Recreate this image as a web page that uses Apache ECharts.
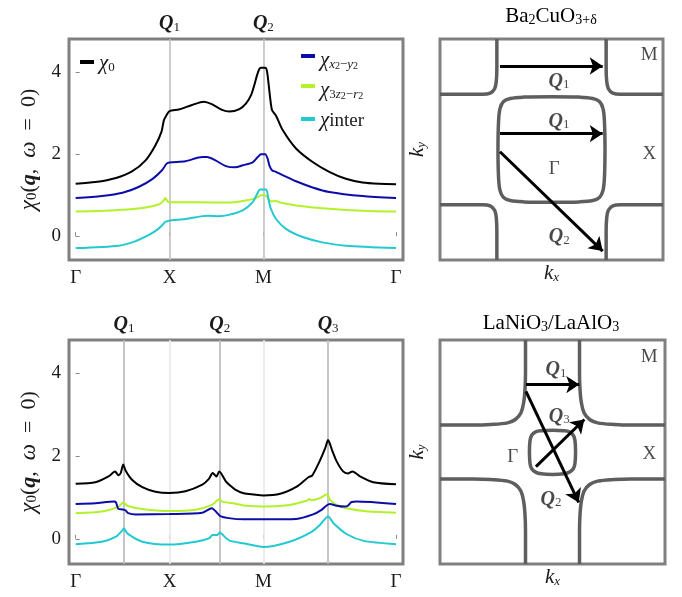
<!DOCTYPE html>
<html>
<head>
<meta charset="utf-8">
<script src="https://cdn.jsdelivr.net/npm/echarts@6/dist/echarts.min.js"></script>
<style>
  html, body { margin: 0; padding: 0; background: #fff; }
  #main { width: 682px; height: 597px; }
</style>
</head>
<body>
<div id="main"></div>
<script>
// ---- path axis (Γ-X-M-Γ, in units of π) ----
var pathTicks = [0, 1, 2, 3.414];
var pathLabels = ['Γ', 'X', 'M', 'Γ'];
var yTicks = [0, 2, 4];

var topQTicks = [1, 2];
var topQLabels = ['1', '2'];
var bottomQTicks = [0.515, 1.535, 2.69];
var bottomQLabels = ['1', '2', '3'];
var topGuides = [1, 2];
var bottomFaintGuides = [1, 2];

// ---- Ba2CuO3+δ susceptibilities ----
var topChi0 = [[0,1.28],[0.21,1.32],[0.43,1.42],[0.6,1.58],[0.745,1.85],[0.85,2.22],[0.915,2.55],[0.94,2.83],[0.965,2.94],[1.0,3.05],[1.1,3.09],[1.24,3.2],[1.365,3.28],[1.45,3.22],[1.56,3.08],[1.638,3.04],[1.745,3.1],[1.816,3.24],[1.869,3.44],[1.904,3.69],[1.933,3.93],[1.957,4.08],[1.975,4.11],[2.021,4.11],[2.039,4.02],[2.057,3.69],[2.071,3.4],[2.092,3.08],[2.135,2.94],[2.206,2.59],[2.348,2.14],[2.525,1.81],[2.702,1.57],[2.879,1.4],[3.057,1.31],[3.234,1.28],[3.414,1.27]];
var topChiX = [[0,0.93],[0.28,0.98],[0.5,1.06],[0.67,1.2],[0.82,1.4],[0.92,1.61],[0.97,1.77],[1.0,1.8],[1.17,1.83],[1.35,1.93],[1.4,1.93],[1.49,1.85],[1.6,1.71],[1.7,1.68],[1.78,1.73],[1.886,1.8],[1.94,1.93],[1.975,2.0],[2.02,2.0],[2.046,1.89],[2.064,1.73],[2.092,1.61],[2.135,1.57],[2.206,1.49],[2.348,1.34],[2.525,1.19],[2.702,1.08],[3.057,0.98],[3.414,0.93]];
var topChiZ = [[0,0.6],[0.3,0.62],[0.55,0.65],[0.75,0.7],[0.89,0.78],[0.93,0.85],[0.957,0.93],[0.975,0.86],[1.0,0.83],[1.3,0.83],[1.638,0.82],[1.78,0.86],[1.92,0.93],[1.975,1.0],[2.02,1.0],[2.05,0.93],[2.08,0.85],[2.135,0.86],[2.17,0.83],[2.35,0.75],[2.7,0.67],[3.06,0.62],[3.414,0.6]];
var topChiI = [[0,-0.29],[0.46,-0.23],[0.64,-0.12],[0.78,0.03],[0.87,0.16],[0.92,0.26],[0.95,0.34],[0.99,0.38],[1.17,0.42],[1.35,0.49],[1.42,0.5],[1.52,0.49],[1.63,0.52],[1.78,0.63],[1.886,0.83],[1.94,1.06],[1.965,1.14],[2.03,1.14],[2.053,0.91],[2.08,0.67],[2.135,0.42],[2.24,0.18],[2.42,-0.02],[2.63,-0.15],[2.88,-0.23],[3.414,-0.29]];

// ---- LaNiO3/LaAlO3 susceptibilities ----
var botChi0 = [[0,1.33],[0.21,1.37],[0.35,1.51],[0.42,1.63],[0.454,1.54],[0.48,1.59],[0.507,1.8],[0.53,1.66],[0.6,1.43],[0.71,1.25],[0.85,1.14],[1.0,1.11],[1.17,1.15],[1.35,1.31],[1.42,1.45],[1.46,1.59],[1.5,1.51],[1.53,1.63],[1.6,1.39],[1.645,1.29],[1.7,1.19],[1.79,1.1],[1.9,1.07],[2.0,1.05],[2.18,1.09],[2.36,1.27],[2.48,1.49],[2.52,1.53],[2.6,1.88],[2.66,2.2],[2.69,2.39],[2.73,2.16],[2.78,1.88],[2.85,1.63],[2.9,1.58],[2.95,1.63],[3.03,1.51],[3.17,1.37],[3.414,1.32]];
var botChiX = [[0,0.84],[0.21,0.86],[0.41,0.9],[0.43,0.88],[0.455,0.72],[0.5,0.71],[0.53,0.69],[0.56,0.62],[0.64,0.59],[1.0,0.6],[1.35,0.63],[1.45,0.74],[1.51,0.62],[1.54,0.55],[1.63,0.5],[1.79,0.47],[2.0,0.47],[2.35,0.48],[2.53,0.59],[2.62,0.7],[2.67,0.8],[2.71,0.84],[2.78,0.8],[2.87,0.78],[2.9,0.8],[2.94,0.89],[2.99,0.9],[3.414,0.84]];
var botChiZ = [[0,0.62],[0.28,0.66],[0.46,0.78],[0.507,0.88],[0.55,0.8],[0.71,0.72],[1.0,0.67],[1.28,0.7],[1.45,0.82],[1.535,0.96],[1.56,0.9],[1.7,0.85],[1.82,0.8],[2.0,0.78],[2.28,0.82],[2.46,0.92],[2.49,0.96],[2.51,0.93],[2.6,0.98],[2.68,1.08],[2.71,0.94],[2.82,0.78],[3.07,0.67],[3.414,0.63]];
var botChiI = [[0,-0.13],[0.28,-0.07],[0.43,0.05],[0.5,0.21],[0.515,0.25],[0.55,0.13],[0.71,-0.07],[1.0,-0.14],[1.28,-0.07],[1.42,0.01],[1.46,0.09],[1.51,0.09],[1.535,0.15],[1.6,0.02],[1.645,-0.05],[1.79,-0.11],[2.0,-0.2],[2.28,-0.07],[2.5,0.15],[2.6,0.33],[2.69,0.54],[2.75,0.37],[2.89,0.11],[3.07,-0.05],[3.414,-0.13]];

// ---- Fermi surfaces (kx, ky in units of π) ----
var fsTopPocket = [[0.48,0],[0.475,0.25],[0.462,0.37],[0.43,0.435],[0.37,0.462],[0.25,0.474],[0,0.478],[-0.25,0.474],[-0.37,0.462],[-0.43,0.435],[-0.462,0.37],[-0.475,0.25],[-0.48,0],[-0.475,-0.25],[-0.462,-0.37],[-0.43,-0.435],[-0.37,-0.462],[-0.25,-0.474],[0,-0.478],[0.25,-0.474],[0.37,-0.462],[0.43,-0.435],[0.462,-0.37],[0.475,-0.25],[0.48,0]];
var fsTopCornerTL = [[-0.49,1],[-0.49,0.75],[-0.495,0.62],[-0.51,0.55],[-0.55,0.51],[-0.62,0.5],[-0.75,0.5],[-1,0.5]];
var fsTopCornerTR = [[0.49,1],[0.49,0.75],[0.495,0.62],[0.51,0.55],[0.55,0.51],[0.62,0.5],[0.75,0.5],[1,0.5]];
var fsTopCornerBL = [[-0.49,-1],[-0.49,-0.75],[-0.495,-0.62],[-0.51,-0.55],[-0.55,-0.51],[-0.62,-0.5],[-0.75,-0.5],[-1,-0.5]];
var fsTopCornerBR = [[0.49,-1],[0.49,-0.75],[0.495,-0.62],[0.51,-0.55],[0.55,-0.51],[0.62,-0.5],[0.75,-0.5],[1,-0.5]];
var fsTopArrows = [[[-0.462,0.756],[0.459,0.756]],[[-0.462,0.143],[0.459,0.143]],[[-0.462,-0.02],[0.459,-0.919]]];
var fsTopText = [[0.067,0.635,'Q1'],[0.067,0.273,'Q1'],[0.025,-0.15,'Γ'],[0.877,-0.014,'X'],[0.877,0.876,'M'],[0.07,-0.77,'Q2']];

var fsBotPocket = [[0.205,0],[0.2,0.1],[0.185,0.15],[0.15,0.18],[0.1,0.19],[0,0.195],[-0.1,0.19],[-0.15,0.18],[-0.185,0.15],[-0.2,0.1],[-0.205,0],[-0.2,-0.1],[-0.185,-0.15],[-0.15,-0.18],[-0.1,-0.195],[0,-0.2],[0.1,-0.195],[0.15,-0.18],[0.185,-0.15],[0.2,-0.1],[0.205,0]];
var fsBotArcTL = [[-0.24,1],[-0.24,0.7],[-0.245,0.55],[-0.255,0.45],[-0.28,0.35],[-0.33,0.29],[-0.4,0.26],[-0.55,0.245],[-0.7,0.24],[-1,0.24]];
var fsBotArcTR = [[0.24,1],[0.24,0.7],[0.245,0.55],[0.255,0.45],[0.28,0.35],[0.33,0.29],[0.4,0.26],[0.55,0.245],[0.7,0.24],[1,0.24]];
var fsBotArcBL = [[-0.24,-1],[-0.24,-0.7],[-0.245,-0.55],[-0.255,-0.45],[-0.28,-0.35],[-0.33,-0.29],[-0.4,-0.26],[-0.55,-0.245],[-0.7,-0.24],[-1,-0.24]];
var fsBotArcBR = [[0.24,-1],[0.24,-0.7],[0.245,-0.55],[0.255,-0.45],[0.28,-0.35],[0.33,-0.29],[0.4,-0.26],[0.55,-0.245],[0.7,-0.24],[1,-0.24]];
var fsBotArrows = [[[-0.236,0.602],[0.238,0.602]],[[-0.236,0.542],[0.233,-0.45]],[[-0.147,-0.13],[0.283,0.29]]];
var fsBotText = [[0.031,0.75,'Q1'],[0.06,0.335,'Q3'],[-0.354,-0.02,'Γ'],[0.86,0,'X'],[0.86,0.87,'M'],[-0.013,-0.406,'Q2']];

(function () {
  'use strict';

  var SERIF = '"Liberation Serif","DejaVu Serif",serif';
  var INK = '#1a1a1a';
  var FRAME = '#808080';
  var FS_GRAY = '#5e5e5e';
  var C = { chi0: '#000000', chiX: '#0c0ca8', chiZ: '#b2f22a', chiI: '#22c9d0' };

  var RICH = {
    n: { fontFamily: SERIF, fontSize: 19, color: INK, lineHeight: 24, verticalAlign: 'bottom' },
    t: { fontFamily: SERIF, fontSize: 21, color: INK, lineHeight: 24, verticalAlign: 'bottom' },
    g: { fontFamily: SERIF, fontSize: 21, color: INK, fontStyle: 'italic', lineHeight: 24, verticalAlign: 'bottom' },
    b: { fontFamily: SERIF, fontSize: 20, color: INK, fontWeight: 'bold', fontStyle: 'italic', lineHeight: 24, verticalAlign: 'bottom' },
    sb: { fontFamily: SERIF, fontSize: 13, color: INK, lineHeight: 12, verticalAlign: 'bottom' },
    st: { fontFamily: SERIF, fontSize: 14, color: INK, lineHeight: 12, verticalAlign: 'bottom' },
    si: { fontFamily: SERIF, fontSize: 13, color: INK, fontStyle: 'italic', lineHeight: 12, verticalAlign: 'bottom' },
    sp: { fontFamily: SERIF, fontSize: 10, color: INK, lineHeight: 30, verticalAlign: 'bottom' }
  };
  // the rotated y-axis title is set a little larger
  var RICH_BIG = {
    n: { fontFamily: SERIF, fontSize: 22, color: INK, lineHeight: 26, verticalAlign: 'bottom' },
    g: { fontFamily: SERIF, fontSize: 23, color: INK, fontStyle: 'italic', lineHeight: 26, verticalAlign: 'bottom' },
    b: { fontFamily: SERIF, fontSize: 22, color: INK, fontWeight: 'bold', fontStyle: 'italic', lineHeight: 26, verticalAlign: 'bottom' },
    sb: { fontFamily: SERIF, fontSize: 15, color: INK, lineHeight: 13, verticalAlign: 'bottom' }
  };

  function qLabel(k) { return '{b|Q}{sb|' + k + '}'; }
  function txt(s) {
    if (s.charAt(0) === 'Q') { return qLabel(s.slice(1)); }
    return '{n|' + s + '}';
  }
  function nearestLabel(v, ticks, labels) {
    var best = 0;
    for (var i = 1; i < ticks.length; i++) {
      if (Math.abs(ticks[i] - v) < Math.abs(ticks[best] - v)) { best = i; }
    }
    return labels[best];
  }

  var LEGEND_TXT = {
    chi0: '{g|χ}{sb|0}',
    chiX: '{g|χ}{si|x}{sp|2}{sb|−}{si|y}{sp|2}',
    chiZ: '{g|χ}{sb|3}{si|z}{sp|2}{sb|−}{si|r}{sp|2}',
    chiI: '{g|χ}{n|inter}'
  };

  function gridBox(left, top, width, height) {
    return {
      left: left, top: top, width: width, height: height,
      show: true, borderColor: FRAME, borderWidth: 3,
      backgroundColor: 'transparent', containLabel: false, outerBoundsMode: 'none'
    };
  }

  function pathAxis(gridIndex) {
    return {
      type: 'value', gridIndex: gridIndex, min: -0.071, max: 3.488,
      axisLine: { show: false },
      splitLine: { show: false },
      axisTick: { show: true, inside: true, length: 4, customValues: pathTicks, lineStyle: { color: '#8a8a8a', width: 1 } },
      axisLabel: {
        customValues: pathTicks, margin: 9, color: INK, fontFamily: SERIF, fontSize: 19,
        formatter: function (v) { return nearestLabel(v, pathTicks, pathLabels); }
      }
    };
  }

  function qAxis(gridIndex, ticks, labels) {
    return {
      type: 'value', gridIndex: gridIndex, position: 'top', min: -0.071, max: 3.488,
      axisLine: { show: false }, axisTick: { show: false }, splitLine: { show: false },
      axisLabel: {
        customValues: ticks, margin: 5, rich: RICH,
        formatter: function (v) { return qLabel(nearestLabel(v, ticks, labels)); }
      }
    };
  }

  function chiAxis(gridIndex, min, max) {
    return {
      type: 'value', gridIndex: gridIndex, min: min, max: max,
      axisLine: { show: false }, splitLine: { show: false },
      axisTick: { show: true, inside: true, length: 4, customValues: yTicks, lineStyle: { color: '#8a8a8a', width: 1 } },
      axisLabel: { customValues: yTicks, margin: 8, color: INK, fontFamily: SERIF, fontSize: 19 },
      name: '{g|χ}{sb|0}{n|(}{b|q}{n|,  }{g|ω}{n|  =  0)}',
      nameLocation: 'middle', nameGap: 29, nameRotate: 90,
      nameTextStyle: { rich: RICH_BIG }
    };
  }

  function kAxis(gridIndex, isX) {
    return {
      type: 'value', gridIndex: gridIndex, min: -1, max: 1,
      axisLine: { show: false }, axisTick: { show: false },
      axisLabel: { show: false }, splitLine: { show: false },
      name: isX ? '{g|k}{si|x}' : '{g|k}{si|y}',
      nameLocation: 'middle', nameGap: isX ? 0 : 12, nameRotate: isX ? 0 : 90,
      nameTextStyle: { rich: RICH }
    };
  }

  function curve(name, color, data, xi, yi, z) {
    return {
      name: name, type: 'line', xAxisIndex: xi, yAxisIndex: yi,
      data: data, smooth: 0.25, showSymbol: false, symbol: 'none',
      lineStyle: { color: color, width: 2 }, itemStyle: { color: color },
      z: z || 3, silent: true
    };
  }

  // vertical guide lines spanning the plot height
  function guides(xi, yi, values, yMin, yMax, color) {
    return {
      type: 'lines', coordinateSystem: 'cartesian2d', xAxisIndex: xi, yAxisIndex: yi,
      silent: true, z: 1,
      lineStyle: { color: color, width: 1.6, opacity: 1, curveness: 0 },
      data: values.map(function (v) { return { coords: [[v, yMin], [v, yMax]] }; })
    };
  }

  function fsLine(data, xi, yi) {
    return {
      type: 'line', xAxisIndex: xi, yAxisIndex: yi, data: data,
      smooth: 0.35, showSymbol: false, symbol: 'none', silent: true,
      lineStyle: { color: FS_GRAY, width: 3.5 }, z: 2
    };
  }

  function arrows(data, xi, yi) {
    return {
      type: 'lines', coordinateSystem: 'cartesian2d', xAxisIndex: xi, yAxisIndex: yi,
      silent: true, z: 4,
      symbol: ['none', 'arrow'], symbolSize: 13,
      lineStyle: { color: '#000', width: 3, opacity: 1, curveness: 0 },
      data: data.map(function (seg) { return { coords: seg }; })
    };
  }

  function annot(data, xi, yi) {
    return {
      type: 'scatter', xAxisIndex: xi, yAxisIndex: yi, symbolSize: 0, silent: true, z: 5,
      data: data.map(function (d) { return { value: [d[0], d[1]], name: d[2] }; }),
      label: {
        show: true, position: 'inside', rich: RICH,
        formatter: function (p) { return txt(p.name); }
      }
    };
  }

  var chart = echarts.init(document.getElementById('main'), null, { renderer: 'canvas' });

  var option = {
    backgroundColor: '#fff',
    animation: false,
    textStyle: { fontFamily: SERIF },
    grid: [
      gridBox(69, 39, 334, 221),
      gridBox(440, 39, 223, 221),
      gridBox(69, 340, 334, 224),
      gridBox(440, 340, 225, 224)
    ],
    xAxis: [
      pathAxis(0),
      qAxis(0, topQTicks, topQLabels),
      kAxis(1, true),
      pathAxis(2),
      qAxis(2, bottomQTicks, bottomQLabels),
      kAxis(3, true)
    ],
    yAxis: [
      chiAxis(0, -0.58, 4.81),
      kAxis(1, false),
      chiAxis(2, -0.61, 4.81),
      kAxis(3, false)
    ],
    legend: [
      {
        data: ['chi0'], left: 75, top: 48, orient: 'vertical',
        icon: 'rect', itemWidth: 14, itemHeight: 4,
        textStyle: { rich: RICH },
        formatter: function (n) { return LEGEND_TXT[n]; },
        selectedMode: false
      },
      {
        data: ['chiX', 'chiZ', 'chiI'], left: 296, top: 45, orient: 'vertical',
        icon: 'rect', itemWidth: 14, itemHeight: 4, itemGap: 9,
        textStyle: { rich: RICH },
        formatter: function (n) { return LEGEND_TXT[n]; },
        selectedMode: false
      }
    ],
    graphic: [
      {
        type: 'text', x: 551, y: 15, silent: true,
        style: { text: '{t|Ba}{st|2}{t|CuO}{st|3+δ}', rich: RICH, align: 'center', verticalAlign: 'middle' }
      },
      {
        type: 'text', x: 551, y: 322, silent: true,
        style: { text: '{t|LaNiO}{st|3}{t|/LaAlO}{st|3}', rich: RICH, align: 'center', verticalAlign: 'middle' }
      }
    ],
    series: [
      guides(0, 0, topGuides, -0.58, 4.81, '#c0c0c0'),
      curve('chi0', C.chi0, topChi0, 0, 0, 6),
      curve('chiX', C.chiX, topChiX, 0, 0, 5),
      curve('chiZ', C.chiZ, topChiZ, 0, 0, 3),
      curve('chiI', C.chiI, topChiI, 0, 0, 4),

      fsLine(fsTopPocket, 2, 1),
      fsLine(fsTopCornerTL, 2, 1),
      fsLine(fsTopCornerTR, 2, 1),
      fsLine(fsTopCornerBL, 2, 1),
      fsLine(fsTopCornerBR, 2, 1),
      arrows(fsTopArrows, 2, 1),
      annot(fsTopText, 2, 1),

      guides(3, 2, bottomFaintGuides, -0.61, 4.81, '#e8e8e8'),
      guides(3, 2, bottomQTicks, -0.61, 4.81, '#b8b8b8'),
      curve('b0', C.chi0, botChi0, 3, 2, 6),
      curve('bX', C.chiX, botChiX, 3, 2, 5),
      curve('bZ', C.chiZ, botChiZ, 3, 2, 4),
      curve('bI', C.chiI, botChiI, 3, 2, 3),

      fsLine(fsBotPocket, 5, 3),
      fsLine(fsBotArcTL, 5, 3),
      fsLine(fsBotArcTR, 5, 3),
      fsLine(fsBotArcBL, 5, 3),
      fsLine(fsBotArcBR, 5, 3),
      arrows(fsBotArrows, 5, 3),
      annot(fsBotText, 5, 3)
    ]
  };

  chart.setOption(option);
})();
</script>
</body>
</html>
